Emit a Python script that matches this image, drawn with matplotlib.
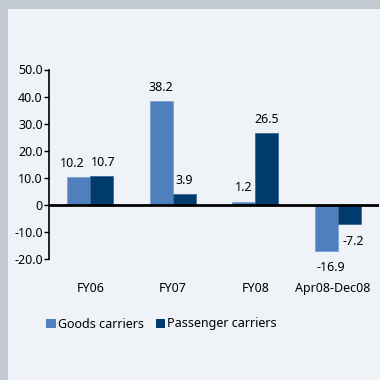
import matplotlib
matplotlib.use("Agg")
import matplotlib.pyplot as plt
from matplotlib.patches import Rectangle, Patch
import numpy as np

plt.rcParams['font.family'] = ['Noto Sans', 'DejaVu Sans']

categories = ["FY06", "FY07", "FY08", "Apr08-Dec08"]
goods = [10.2, 38.2, 1.2, -16.9]
passenger = [10.7, 3.9, 26.5, -7.2]
series_names = ["Goods carriers", "Passenger carriers"]
yticks = [-20, -10, 0, 10, 20, 30, 40, 50]

goods_color = "#4f80bd"
pass_color = "#003b6d"
panel_color = "#eff3f7"
frame_color = "#c3c9d1"

W = H = 380
FS = 9
fig = plt.figure(figsize=(3.8, 3.8), dpi=100, facecolor=frame_color)
fig.patches.append(Rectangle((8 / W, 0), 1 - 8 / W, 1 - 9 / H,
                             transform=fig.transFigure, facecolor=panel_color,
                             edgecolor="none", zorder=-10))

ax = fig.add_axes([49 / W, 1 - 259 / H, 330 / W, (259 - 69.5) / H])
ax.set_facecolor("none")

x = np.arange(len(categories))
bw = 0.28
ax.bar(x - bw / 2, goods, bw, color=goods_color, edgecolor="#7aa0d0", linewidth=0.6, zorder=2)
ax.bar(x + bw / 2, passenger, bw, color=pass_color, edgecolor="#3d6a99", linewidth=0.6, zorder=2)

ax.set_xlim(-0.5, 3.5)
ax.set_ylim(-20, 50)
ax.axhline(0, color="black", lw=2, zorder=3)

for s in ["top", "right", "bottom"]:
    ax.spines[s].set_visible(False)
ax.spines["left"].set_linewidth(1.2)
ax.set_xticks([])
ax.set_yticks(yticks)
ax.set_yticklabels(["0" if v == 0 else f"{v:.1f}" for v in yticks], fontsize=FS)
ax.tick_params(axis="y", direction="out", length=3.5, width=1, pad=1)

# category labels below the plot area
cat_dx = [0, 0, 0, -4]
for xi, lab, dx in zip(x, categories, cat_dx):
    ax.annotate(lab, (xi, 0), xycoords=("data", "axes fraction"),
                xytext=(dx, -21), textcoords="offset points",
                ha="center", va="center", fontsize=FS)

# value labels (small horizontal nudges keep neighbouring labels apart)
goods_dx = [-5, 0, 0, 3]
pass_dx = [1, 0, 0, 2.5]

def label_bars(xs, vals, dxs):
    for xi, v, dx in zip(xs, vals, dxs):
        dy = 10 if v >= 0 else -12
        ax.annotate(f"{v:.1f}", (xi, v), xytext=(dx, dy), textcoords="offset points",
                    ha="center", va="center", fontsize=FS)

label_bars(x - bw / 2, goods, goods_dx)
label_bars(x + bw / 2, passenger, pass_dx)

handles = [Patch(facecolor=goods_color, edgecolor="none"),
           Patch(facecolor=pass_color, edgecolor="none")]
fig.legend(handles, series_names, loc="center left",
           bbox_to_anchor=(40 / W, 1 - 324 / H), ncol=2, frameon=False,
           fontsize=FS, handlelength=0.75, handleheight=0.75,
           handletextpad=0.15, columnspacing=1.0, borderpad=0)

fig.savefig("out.png", dpi=100, facecolor=frame_color)
